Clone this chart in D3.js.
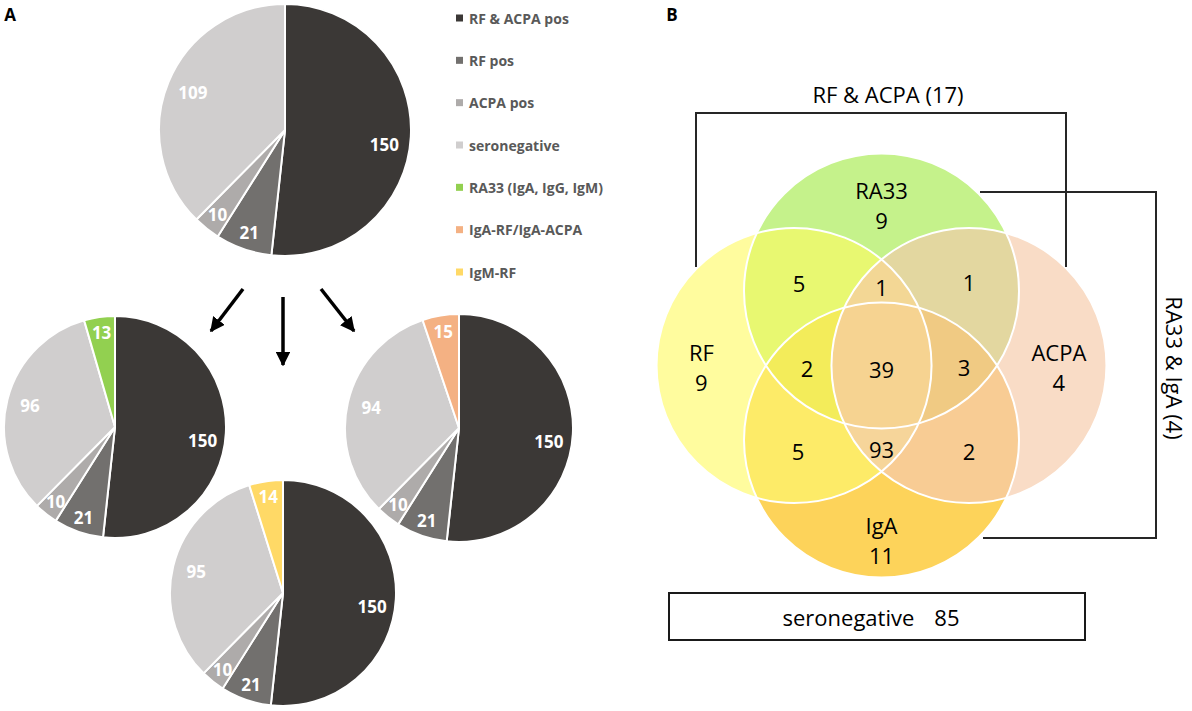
<!DOCTYPE html>
<html>
<head>
<meta charset="utf-8">
<script src="https://cdn.jsdelivr.net/npm/d3@7"></script>
<style>
  body { margin: 0; background: #fff; }
  svg { display: block; font-family: "Open Sans", sans-serif; }
</style>
</head>
<body>
<svg id="chart" width="1192" height="711"></svg>
<script>
// ---- data ----
const legendLabels = ["RF & ACPA pos", "RF pos", "ACPA pos", "seronegative",
                      "RA33 (IgA, IgG, IgM)", "IgA-RF/IgA-ACPA", "IgM-RF"];
const legendColors = ["#3b3836", "#72706e", "#aeabaa", "#d0cece",
                      "#92d050", "#f4b183", "#ffd966"];

// slices clockwise from 12 o'clock: RF&ACPA, RF, ACPA, seronegative, extra marker
const pieAll  = [150, 21, 10, 109];
const pieRA33 = [150, 21, 10, 96, 13];
const pieIgM  = [150, 21, 10, 95, 14];
const pieIgA  = [150, 21, 10, 94, 15];

const vennSets = ["RF", "RA33", "ACPA", "IgA"];
const vennOnly = [9, 9, 4, 11];
const vennRegions = [
  { sets: ["RF", "RA33"], value: 5 },
  { sets: ["RA33", "ACPA"], value: 1 },
  { sets: ["RF", "IgA"], value: 5 },
  { sets: ["ACPA", "IgA"], value: 2 },
  { sets: ["RF", "RA33", "ACPA"], value: 1 },
  { sets: ["RF", "RA33", "IgA"], value: 2 },
  { sets: ["RA33", "ACPA", "IgA"], value: 3 },
  { sets: ["RF", "ACPA", "IgA"], value: 93 },
  { sets: ["RF", "RA33", "ACPA", "IgA"], value: 39 }
];
const bracketLabels = ["RF & ACPA", "RA33 & IgA"];
const bracketValues = [17, 4];
const vennSeronegative = 85;

// ---- layout / style ----
const svg = d3.select("#chart");

const regionColors = {
  "RF": "#fffc9e", "RA33": "#c5f28b", "ACPA": "#f9dcc6", "IgA": "#fdd35a",
  "RF|RA33": "#e8f871", "RA33|ACPA": "#e3d7a0", "RF|IgA": "#fdeb68",
  "ACPA|IgA": "#f8cc94", "RF|ACPA": "#f6d59a", "RA33|IgA": "#f6d391",
  "RF|RA33|ACPA": "#f3d795", "RF|RA33|IgA": "#f3ec5a",
  "RA33|ACPA|IgA": "#f0ca83", "RF|ACPA|IgA": "#f6d59a",
  "RF|RA33|ACPA|IgA": "#f6d391"
};

// panel letters
svg.append("text").attr("x", 10).attr("y", 14).attr("dominant-baseline", "central")
  .attr("text-anchor", "middle").attr("font-weight", 700).attr("font-size", 17).text("A");
svg.append("text").attr("x", 672).attr("y", 14).attr("dominant-baseline", "central")
  .attr("text-anchor", "middle").attr("font-weight", 700).attr("font-size", 17).text("B");

// ---- legend ----
const legendY = d3.scalePoint().domain(legendLabels).range([18, 272]);
const legend = svg.append("g");
legend.selectAll("rect").data(legendLabels).enter().append("rect")
  .attr("x", 456).attr("y", d => legendY(d) - 3.5)
  .attr("width", 7).attr("height", 7)
  .attr("fill", (d, i) => legendColors[i]);
legend.selectAll("text").data(legendLabels).enter().append("text")
  .attr("x", 469).attr("y", d => legendY(d))
  .attr("dominant-baseline", "central")
  .attr("font-size", 14).attr("font-weight", 700).attr("fill", "#595959")
  .text(d => d);

// ---- pies ----
const pie = d3.pie().sort(null).value(d => d);

function drawPie(values, extraColor, cx, cy, r) {
  const colors = legendColors.slice(0, 4).concat([extraColor]);
  const arc = d3.arc().innerRadius(0).outerRadius(r);
  const g = svg.append("g").attr("transform", `translate(${cx},${cy})`);
  const arcs = pie(values);
  g.selectAll("path").data(arcs).enter().append("path")
    .attr("d", arc)
    .attr("fill", (d, i) => colors[i])
    .attr("stroke", "#fff").attr("stroke-width", 2).attr("stroke-linejoin", "round");
  g.selectAll("text").data(arcs).enter().append("text")
    .attr("transform", d => {
      const k = d.value < 25 ? 0.86 : 0.79;
      const a = (d.startAngle + d.endAngle) / 2;
      return `translate(${Math.sin(a) * r * k},${-Math.cos(a) * r * k + (d.value > 140 ? 9 : 0)})`;
    })
    .attr("text-anchor", "middle").attr("dominant-baseline", "central")
    .attr("font-size", 17).attr("font-weight", 700).attr("fill", "#fff")
    .text(d => d.value);
}

drawPie(pieAll, null, 285, 130, 126);
drawPie(pieRA33, legendColors[4], 115, 427, 111);
drawPie(pieIgM, legendColors[6], 283, 593, 113);
drawPie(pieIgA, legendColors[5], 459, 428, 114);

// arrows
svg.append("defs").append("marker")
  .attr("id", "head").attr("viewBox", "0 0 10 10").attr("refX", 9).attr("refY", 5)
  .attr("markerWidth", 4.2).attr("markerHeight", 4.2).attr("orient", "auto")
  .attr("markerUnits", "strokeWidth")
  .append("path").attr("d", "M0,0 L10,5 L0,10 Z").attr("fill", "#000");
const arrows = [[243, 289, 211, 331], [283, 297, 283, 365], [321, 289, 354, 331]];
svg.append("g").selectAll("line").data(arrows).enter().append("line")
  .attr("x1", d => d[0]).attr("y1", d => d[1]).attr("x2", d => d[2]).attr("y2", d => d[3])
  .attr("stroke", "#000").attr("stroke-width", 3.5)
  .attr("marker-end", "url(#head)");

// ---- venn ----
const vr = 137.5;
const vx = d3.scaleLinear().domain([0, 1]).range([881.5, 881.5 + vr]);
const vy = d3.scaleLinear().domain([0, 1]).range([365.5, 365.5 + vr]);
const vennCenters = { RF: [-0.636, 0], RA33: [0, -0.542], ACPA: [0.636, 0], IgA: [0, 0.542] };

const defs = svg.select("defs");
vennSets.forEach(s => {
  defs.append("clipPath").attr("id", "clip-" + s).append("circle")
    .attr("cx", vx(vennCenters[s][0])).attr("cy", vy(vennCenters[s][1])).attr("r", vr);
});

// all combinations, drawn by increasing size so the exact region keeps its colour
const combos = [];
for (let m = 1; m < 16; m++) {
  combos.push(vennSets.filter((s, i) => m & (1 << i)));
}
combos.sort((a, b) => a.length - b.length);

const venn = svg.append("g");
combos.forEach(c => {
  let parent = venn;
  c.slice(0, -1).forEach(s => { parent = parent.append("g").attr("clip-path", `url(#clip-${s})`); });
  const last = c[c.length - 1];
  parent.append("circle")
    .attr("cx", vx(vennCenters[last][0])).attr("cy", vy(vennCenters[last][1])).attr("r", vr)
    .attr("fill", regionColors[c.join("|")]);
});
venn.selectAll("circle.outline").data(vennSets).enter().append("circle")
  .attr("class", "outline")
  .attr("cx", d => vx(vennCenters[d][0])).attr("cy", d => vy(vennCenters[d][1])).attr("r", vr)
  .attr("fill", "none").attr("stroke", "#fff").attr("stroke-width", 2);

// labels
const onlyPos = { RF: [-1.31, 0.01], RA33: [0, -1.167], ACPA: [1.29, 0.01], IgA: [0, 1.27] };
const regionPos = {
  "RF|RA33": [-0.6, -0.6], "RA33|ACPA": [0.636, -0.607], "RF|IgA": [-0.607, 0.622],
  "ACPA|IgA": [0.636, 0.622], "RF|RA33|ACPA": [0, -0.571], "RF|RA33|IgA": [-0.542, 0.018],
  "RA33|ACPA|IgA": [0.6, 0.01], "RF|ACPA|IgA": [0, 0.607], "RF|RA33|ACPA|IgA": [0, 0.025]
};
const vt = svg.append("g").attr("font-size", 22).attr("fill", "#000")
  .attr("text-anchor", "middle").attr("dominant-baseline", "central");
vennSets.forEach((s, i) => {
  const p = onlyPos[s];
  vt.append("text").attr("x", vx(p[0])).attr("y", vy(p[1]) - 15).text(s);
  vt.append("text").attr("x", vx(p[0])).attr("y", vy(p[1]) + 15).text(vennOnly[i]);
});
vennRegions.forEach(r => {
  const p = regionPos[r.sets.join("|")];
  vt.append("text").attr("x", vx(p[0])).attr("y", vy(p[1])).text(r.value);
});

// brackets
const br = svg.append("g").attr("fill", "none").attr("stroke", "#262626").attr("stroke-width", 2);
br.append("path").attr("d", "M696,267 V113 H1066 V267");
br.append("path").attr("d", "M980,192 H1156 V538 H983");

vt.append("text").attr("x", 888).attr("y", 94)
  .text(`${bracketLabels[0]} (${bracketValues[0]})`);
vt.append("text").attr("transform", "translate(1175,368) rotate(90)")
  .text(`${bracketLabels[1]} (${bracketValues[1]})`);

// seronegative box
svg.append("rect").attr("x", 669).attr("y", 593).attr("width", 416).attr("height", 47)
  .attr("fill", "none").attr("stroke", "#1a1a1a").attr("stroke-width", 2);
const sn = vt.append("text").attr("x", 871).attr("y", 617);
sn.append("tspan").text("seronegative");
sn.append("tspan").attr("dx", 20).text(vennSeronegative);
</script>
</body>
</html>
